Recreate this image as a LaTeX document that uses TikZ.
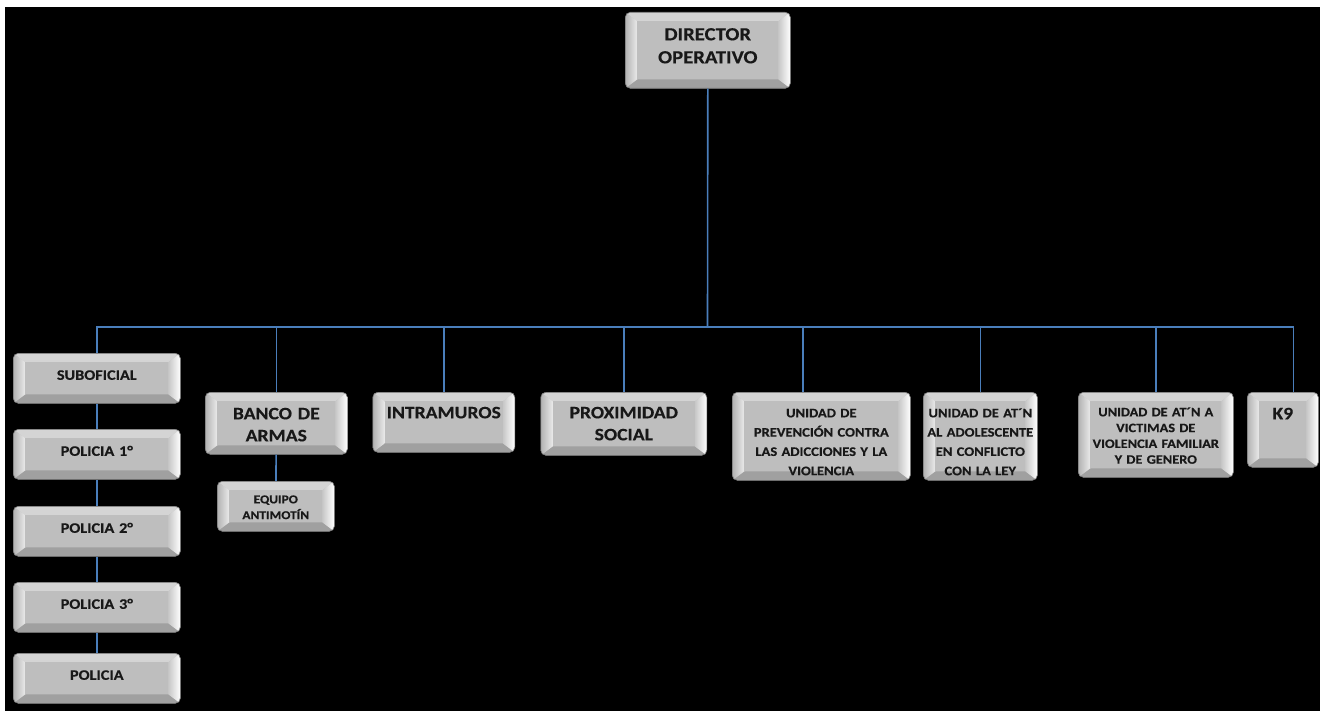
\documentclass[tikz,border=0pt]{standalone}
\usepackage{fontspec}
\setmainfont{Carlito}[FakeStretch=1.12, WordSpace=0.85, BoldFeatures={FakeBold=0.4}]
\definecolor{linkblue}{RGB}{74,126,187}
\definecolor{boxface}{RGB}{190,190,190}
\definecolor{boxtop}{RGB}{212,212,212}
\definecolor{boxbot}{RGB}{160,160,160}
\definecolor{boxtext}{RGB}{24,24,24}
\begin{document}
\begin{tikzpicture}[x=1pt, y=-1pt,
    bevelbox/.style={rectangle, rounded corners=5pt, anchor=north west, inner sep=0pt,
      align=center, text=boxtext, draw=black!55, line width=0.6pt, fill=boxface,
      path picture={
        \coordinate (o1) at (path picture bounding box.south west);
        \coordinate (o2) at (path picture bounding box.north east);
        \coordinate (i1) at ([shift={(12pt,9pt)}]o1);
        \coordinate (i2) at ([shift={(-12pt,-9pt)}]o2);
        \fill[boxtop, sharp corners] (o1 |- o2) -- (o2) -- (i2) -- (i1 |- i2) -- cycle;
        \fill[boxbot, sharp corners] (o1) -- (o2 |- o1) -- (i2 |- i1) -- (i1) -- cycle;
        \shade[sharp corners, left color=black!30, right color=white!92!black]
          (o1) -- (i1) -- (i1 |- i2) -- (o1 |- o2) -- cycle;
        \shade[sharp corners, left color=black!22, right color=white]
          (o2 |- o1) -- (o2) -- (i2) -- (i2 |- i1) -- cycle;
        \fill[boxface, sharp corners] (i1) rectangle (i2);
      }},
    sz/.style n args={3}{text width=#1pt, text height=#2pt, text depth=#3pt},
    txtdir/.style={font=\bfseries\fontsize{18.5}{23}\selectfont},
    txtbig/.style={font=\bfseries\fontsize{17.5}{22}\selectfont},
    txtmid/.style={font=\bfseries\fontsize{14.5}{18}\selectfont},
    txtsml/.style={font=\bfseries\fontsize{13}{19.3}\selectfont},
    txttny/.style={font=\bfseries\fontsize{12}{15.8}\selectfont},
    link/.style={draw=linkblue, line width=1.6pt}]

  % background
  \fill[white] (0,0) rectangle (1320,711);
  \fill[black] (5,7) rectangle (1320,711);

  % top
  \node[bevelbox, txtdir, sz={165}{28}{48}] (dir) at (625,12) {DIRECTOR\\OPERATIVO};

  % ranks column
  \node[bevelbox, txtmid, sz={167}{26.5}{23.5}] (sub) at (13,353) {SUBOFICIAL};
  \node[bevelbox, txtmid, sz={167}{26.5}{23.5}] (pol1) at (13,429) {POLICIA 1°};
  \node[bevelbox, txtmid, sz={167}{26.5}{23.5}] (pol2) at (13,506) {POLICIA 2°};
  \node[bevelbox, txtmid, sz={167}{26.5}{23.5}] (pol3) at (13,582) {POLICIA 3°};
  \node[bevelbox, txtmid, sz={167}{26.5}{23.5}] (pol) at (13,653) {POLICIA};

  % areas
  \node[bevelbox, txtbig, sz={142}{27}{35}] (banco) at (205,392) {BANCO DE\\ARMAS};
  \node[bevelbox, txttny, sz={117}{22}{28}] (equipo) at (217,481) {EQUIPO\\ANTIMOTÍN};
  \node[bevelbox, txtbig, sz={142}{26}{34}] (intra) at (372.5,392) {INTRAMUROS};
  \node[bevelbox, txtbig, sz={166}{26}{37}] (prox) at (540.5,392) {PROXIMIDAD\\SOCIAL};
  \node[bevelbox, txtsml, sz={178}{25}{63}] (prev) at (732,392)
    {UNIDAD DE\\PREVENCIÓN CONTRA\\LAS ADICCIONES Y LA\\VIOLENCIA};
  \node[bevelbox, txtsml, sz={114}{25}{63}] (adol) at (923,392)
    {UNIDAD DE AT´N\\AL ADOLESCENTE\\EN CONFLICTO\\CON LA LEY};
  \node[bevelbox, txttny, font=\bfseries\fontsize{12.8}{15.8}\selectfont, sz={155}{24}{61}] (vict) at (1078,392)
    {UNIDAD DE AT´N A\\VICTIMAS DE\\VIOLENCIA FAMILIAR\\Y DE GENERO};
  \node[bevelbox, txtbig, sz={71}{27}{48}] (k9) at (1247,392) {K9};

  % connectors
  \coordinate (bus) at (707.5,327);
  \draw[link] (dir.south) -- (bus);
  \foreach \n in {sub,banco,intra,prox,adol,vict}
    \draw[link] (\n.north) |- (bus);
  \draw[link] ([xshift=-18.5pt]prev.north) |- (bus);
  \draw[link] ([xshift=10.5pt]k9.north) |- (bus);
  \draw[link] (sub) -- (pol1);
  \draw[link] (pol1) -- (pol2);
  \draw[link] (pol2) -- (pol3);
  \draw[link] (pol3) -- (pol);
  \draw[link] (banco) -- (equipo);
\end{tikzpicture}
\end{document}
